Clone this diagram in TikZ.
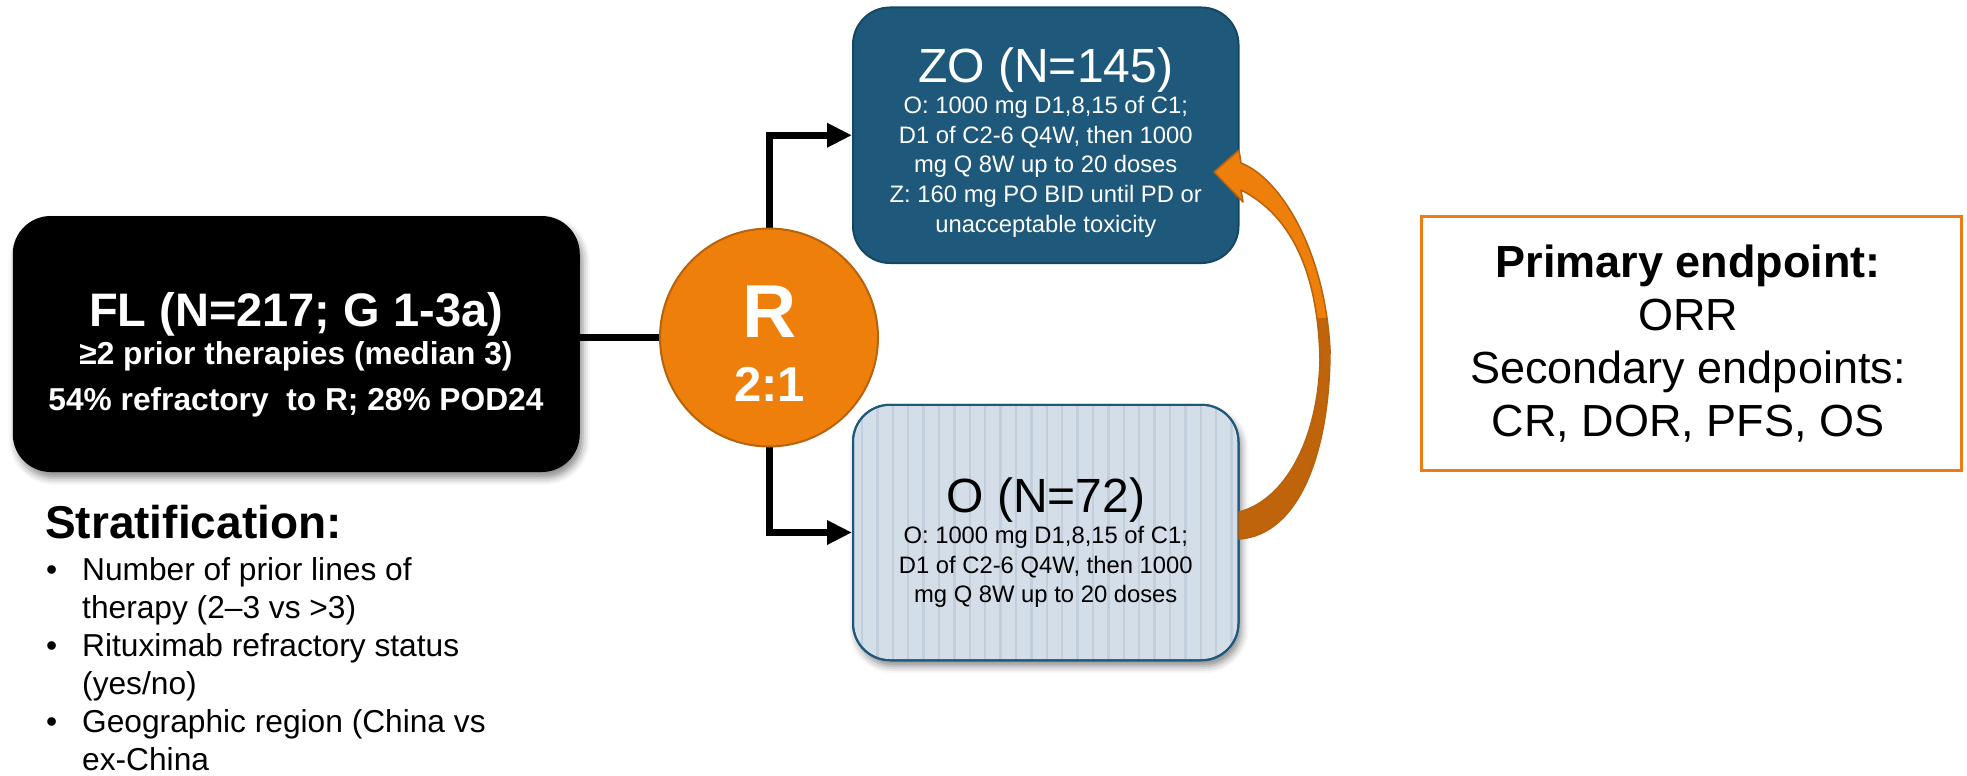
\documentclass[tikz,border=0pt]{standalone}
\usepackage{fontspec}
\setmainfont{Liberation Sans}
\usetikzlibrary{arrows.meta,shadows.blur,calc,backgrounds}

\definecolor{zoblue}{HTML}{1E587A}
\definecolor{zoedge}{HTML}{164762}
\definecolor{ofill}{HTML}{D3DEE9}
\definecolor{ostripe}{HTML}{C2CEDB}
\definecolor{rorange}{HTML}{EF7F0B}
\definecolor{rorangedark}{HTML}{BF640A}
\definecolor{redge}{HTML}{B8620C}
\definecolor{eporange}{HTML}{EE7D11}

\newcommand\fsz[2]{\fontsize{#1}{#2}\selectfont}

\begin{document}
\begin{tikzpicture}[x=1pt,y=-1pt,
  txt/.style={inner sep=0pt, anchor=base},
  armbox/.style={rounded corners=37pt, minimum width=385.5pt, minimum height=255.5pt, inner sep=0pt},
  link/.style={line width=7pt, draw=black},
  arrowlink/.style={link, -{Triangle[length=25pt,width=23pt]}},
  bodytext/.style={txt, font=\fsz{23.8}{29.7}},
  bigshadow/.style={blur shadow={shadow xshift=3pt, shadow yshift=-6pt, shadow blur radius=7pt, shadow opacity=45}}
]
\useasboundingbox (0,0) rectangle (1967,776);

% population box
\node[fill=black, rounded corners=38pt, minimum width=567pt, minimum height=256pt, inner sep=0pt, bigshadow] (fl) at (296.25,344) {};
\node[txt, text=white, font=\bfseries\fsz{47}{52}] (fl-title) at (296,326) {FL (N=217; G 1-3a)};
\node[txt, text=white, font=\bfseries\fsz{31.7}{38}] (fl-prior) at (296,364.4) {≥2 prior therapies (median 3)};
\node[txt, text=white, font=\bfseries\fsz{31.7}{38}] (fl-refr) at (296,410) {54\% refractory\ \ to R; 28\% POD24};

% randomisation
\node[circle, fill=rorange, draw=redge, line width=2pt, minimum size=218pt, inner sep=0pt] (R) at (769,337.5) {};
\node[txt, text=white, font=\bfseries\fsz{75}{80}] (R-letter) at (769.5,337) {R};
\node[txt, text=white, font=\bfseries\fsz{49}{55}] (R-ratio) at (769.5,401.7) {2:1};

% treatment arms
\node[armbox, fill=zoblue, draw=zoedge, line width=2pt] (ZO) at (1045.75,135.25) {};
\node[txt, text=white, font=\fsz{48}{54}] (zo-title) at (1045.75,82) {ZO (N=145)};
\foreach \t [count=\i] in {{O: 1000 mg D1,8,15 of C1;}, {D1 of C2-6 Q4W, then 1000}, {mg Q 8W up to 20 doses}, {Z: 160 mg PO BID until PD or}, {unacceptable toxicity}}
  \node[bodytext, text=white] (zo-line\i) at (1045.75,{113.5+(\i-1)*29.7}) {\t};

\node[armbox, fill=ofill, draw=zoblue, line width=2pt, bigshadow,
  path picture={
    \foreach \k in {0,...,24}
      \draw[ostripe, line width=2.5pt]
        ($(path picture bounding box.north west)+({9+\k*15.4},0)$) --
        ($(path picture bounding box.south west)+({9+\k*15.4},0)$);
  }] (O) at (1045.75,532.5) {};
\node[armbox, draw=zoblue, line width=2pt] (O-frame) at (1045.75,532.5) {};
\node[txt, text=black, font=\fsz{48}{54}] (o-title) at (1045.75,512) {O (N=72)};
\foreach \t [count=\i] in {{O: 1000 mg D1,8,15 of C1;}, {D1 of C2-6 Q4W, then 1000}, {mg Q 8W up to 20 doses}}
  \node[bodytext, text=black] (o-line\i) at (1045.75,{543.5+(\i-1)*29.5}) {\t};

% connectors
\begin{scope}[on background layer]
  \draw[link] (R.west) -- (R.west -| fl.east);
  \draw[arrowlink] (R.center) |- (ZO.west);
  \draw[arrowlink] (R.center) |- (O.west);
\end{scope}

% curved block arrow from the O arm back up to the ZO arm
\def\bendarrow{(1214,172) -- (1239,150) -- (1241,163)
  .. controls (1280,178) and (1325,250) .. (1330,350)
  .. controls (1330,450) and (1300,535) .. (1239,539)
  -- (1239,512)
  .. controls (1285,500) and (1318,440) .. (1320,360)
  .. controls (1318,270) and (1290,215) .. (1241,190)
  -- (1243,202) -- cycle}
\fill[rorange] \bendarrow;
\begin{scope}
  \clip (1200,318) rectangle (1400,560);
  \fill[rorangedark] \bendarrow;
\end{scope}
\draw[redge, line width=1.5pt, line join=round] \bendarrow;

% endpoints
\node[draw=eporange, line width=3pt, minimum width=540pt, minimum height=254pt, inner sep=0pt] (ep) at (1691.5,343) {};
\node[txt, font=\bfseries\fsz{45}{53}] (ep-primary) at (1688,277) {Primary endpoint:};
\node[txt, font=\fsz{45}{53}] (ep-orr) at (1688,330) {ORR};
\node[txt, font=\fsz{45}{53}] (ep-secondary) at (1688,383) {Secondary endpoints:};
\node[txt, font=\fsz{45}{53}] (ep-list) at (1688,436) {CR, DOR, PFS, OS};

% stratification factors
\node[txt, anchor=base west, font=\bfseries\fsz{46}{52}] (strat) at (45,538) {Stratification:};
\node[inner sep=0pt, anchor=base west, font=\fsz{31.7}{38}] (strat-list) at (46,580.5) {%
  \begin{tabular}[t]{@{}p{36pt}@{}l@{}}
  \textbullet & Number of prior lines of\\
              & therapy (2–3 vs >3)\\
  \textbullet & Rituximab refractory status\\
              & (yes/no)\\
  \textbullet & Geographic region (China vs\\
              & ex-China
  \end{tabular}};
\end{tikzpicture}
\end{document}
